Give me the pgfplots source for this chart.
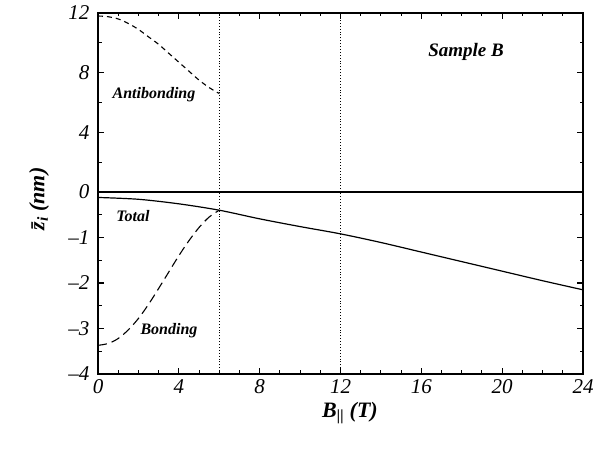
\documentclass[border=0pt]{standalone}
\usepackage{fontspec}
\setmainfont{Liberation Serif}
\usepackage{pgfplots}
\pgfplotsset{compat=1.18}
\begin{document}
\begin{tikzpicture}
\useasboundingbox (0pt,0pt) rectangle (609pt,449pt);
\pgfplotsset{
  common/.style={
    scale only axis, width=485pt, anchor=south west,
    xmin=0, xmax=24,
    axis line style={line width=1.2pt},
    tick style={line width=1pt, black},
    major tick length=6pt, minor tick length=3.5pt,
    tick align=inside,
    xtick={0,4,...,24}, minor x tick num=3,
    ticklabel style={font=\fontsize{21}{21}\selectfont\itshape},
    ytick pos=both,
    clip=false,
  }
}
% upper part
\begin{axis}[common, at={(98pt,257pt)}, height=179pt,
  ymin=0, ymax=12, ytick={0,4,8,12}, yticklabels={0,4,8,12},
  minor ytick={2,6,10},
  xtick pos=right, xticklabels={},
  yticklabel style={xshift=-5pt},
]
\addplot[black, line width=1.1pt, dash pattern=on 5pt off 4pt, smooth] coordinates {
 (0,11.8) (0.5,11.75) (1,11.6) (1.5,11.3) (2,10.9) (2.5,10.4) (3,9.9) (3.5,9.3) (4,8.7) (4.5,8.1) (5,7.5) (5.5,7.0) (6,6.6)};
\addplot[black, line width=0.9pt, dotted] coordinates {(6,0) (6,12)};
\addplot[black, line width=0.9pt, dotted] coordinates {(12,0) (12,12)};
\end{axis}
% lower part
\begin{axis}[common, at={(98pt,75pt)}, height=182pt,
  ymin=-4, ymax=0, ytick={-4,-3,-2,-1}, yticklabels={\textendash4,\textendash3,\textendash2,\textendash1},
  minor ytick={-3.5,-2.5,-1.5,-0.5},
  xtick pos=left, xticklabels={0,4,8,12,16,20,24},
  yticklabel style={xshift=-5pt},
  xticklabel style={yshift=-2pt},
]
\addplot[black, line width=1.2pt, smooth] coordinates {
 (0,-0.12) (2,-0.16) (4,-0.26) (6,-0.40) (8,-0.59) (10,-0.76) (12,-0.92) (14,-1.11) (16,-1.32) (18,-1.53) (20,-1.74) (22,-1.95) (24,-2.15)};
\addplot[black, line width=1.1pt, dash pattern=on 9pt off 5pt, smooth] coordinates {
 (0,-3.37) (0.5,-3.33) (1,-3.22) (1.5,-3.03) (2,-2.78) (2.5,-2.47) (3,-2.12) (3.5,-1.76) (4,-1.40) (4.5,-1.07) (5,-0.78) (5.5,-0.55) (6,-0.40)};
\addplot[black, line width=0.9pt, dotted] coordinates {(6,-4) (6,0)};
\addplot[black, line width=0.9pt, dotted] coordinates {(12,-4) (12,0)};
\end{axis}
\node[font=\fontsize{16}{16}\selectfont\bfseries\itshape] at (154pt,354pt) {Antibonding};
\node[font=\fontsize{16}{16}\selectfont\bfseries\itshape] at (133pt,233pt) {Total};
\node[font=\fontsize{16}{16}\selectfont\bfseries\itshape] at (169pt,118pt) {Bonding};
\node[font=\fontsize{19}{19}\selectfont\bfseries\itshape] at (466pt,397pt) {Sample B};
\node[font=\fontsize{22}{22}\selectfont\bfseries\itshape, rotate=90] at (39pt,250pt) {\=z\textsubscript{i} (nm)};
\node[font=\fontsize{22}{22}\selectfont\bfseries\itshape] at (350pt,36pt) {B\textsubscript{||} (T)};
\end{tikzpicture}
\end{document}
